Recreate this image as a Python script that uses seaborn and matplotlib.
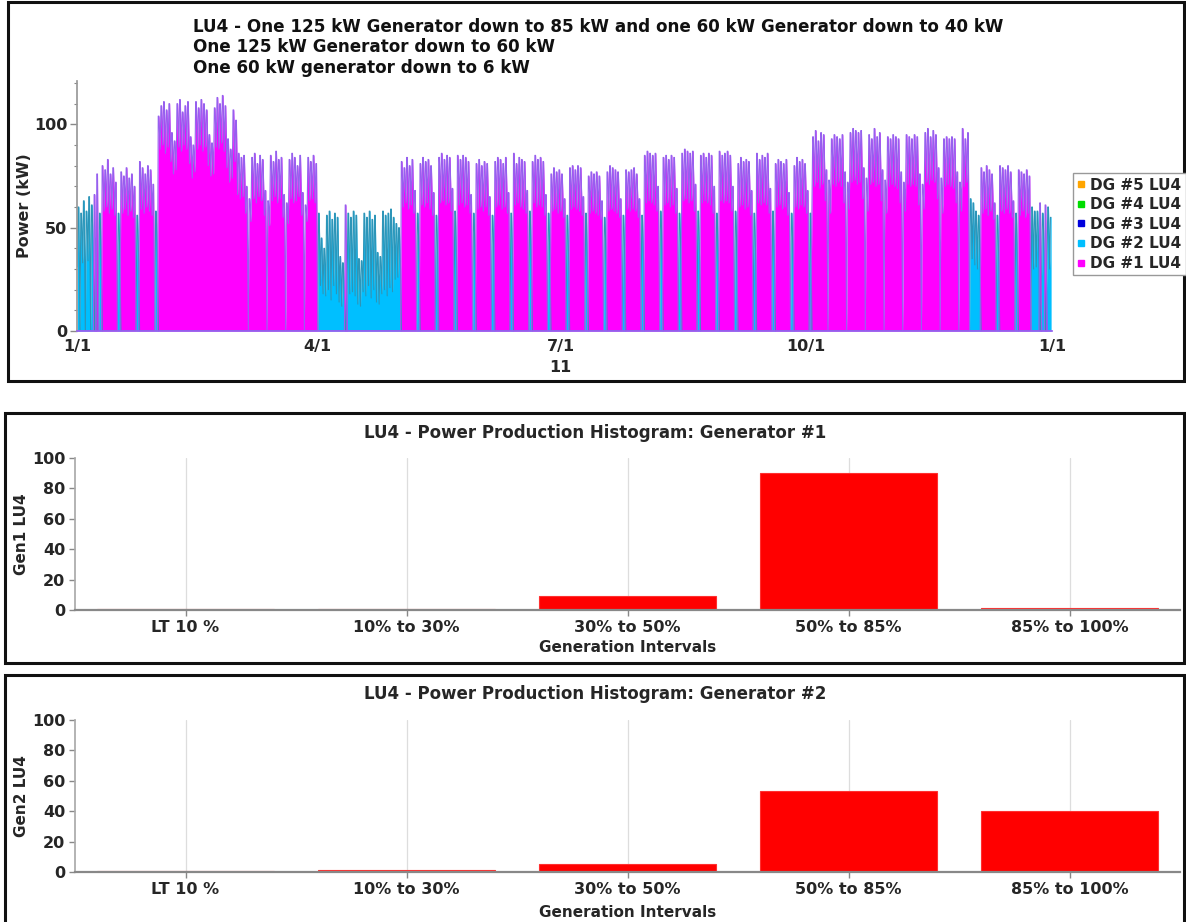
import numpy as np
import pandas as pd
import matplotlib
matplotlib.use("Agg")
import matplotlib.pyplot as plt
import matplotlib.dates as mdates
from matplotlib.lines import Line2D
from matplotlib.patches import Rectangle
import seaborn as sns

######### Data #########
# Daily peak load (kW) for 2011, one row per week Mon..Sun (first row = Sat 1 Jan, Sun 2 Jan)
peak_kw = [
    [60, 57],
    [63, 58, 65, 61, 66, 76, 57],
    [80, 78, 83, 76, 79, 72, 57],
    [77, 75, 79, 74, 76, 70, 56],
    [82, 79, 76, 80, 78, 71, 58],
    [104, 109, 111, 107, 110, 96, 92],
    [110, 112, 106, 109, 111, 94, 90],
    [111, 108, 112, 110, 107, 95, 91],
    [108, 113, 110, 114, 109, 93, 88],
    [107, 102, 86, 84, 85, 70, 64],
    [84, 86, 81, 85, 83, 68, 63],
    [85, 82, 87, 83, 84, 66, 62],
    [83, 86, 84, 80, 85, 67, 61],
    [84, 82, 85, 81, 57, 45, 40],
    [56, 58, 54, 57, 55, 36, 33],
    [61, 57, 55, 58, 56, 35, 34],
    [57, 55, 58, 54, 56, 38, 36],
    [58, 56, 57, 59, 55, 52, 50],
    [82, 79, 84, 80, 83, 68, 57],
    [81, 84, 82, 83, 80, 67, 56],
    [84, 86, 83, 85, 84, 69, 58],
    [85, 83, 85, 84, 82, 66, 57],
    [81, 83, 80, 82, 81, 65, 56],
    [82, 84, 83, 81, 84, 67, 57],
    [86, 81, 84, 83, 82, 68, 58],
    [82, 85, 83, 84, 82, 66, 57],
    [76, 79, 77, 78, 76, 64, 56],
    [79, 80, 78, 80, 79, 65, 57],
    [75, 77, 76, 77, 75, 63, 55],
    [77, 80, 79, 78, 77, 64, 56],
    [78, 77, 78, 79, 76, 64, 56],
    [85, 87, 86, 85, 86, 70, 58],
    [84, 85, 83, 85, 84, 69, 57],
    [86, 88, 87, 86, 87, 71, 58],
    [85, 86, 84, 86, 85, 70, 57],
    [87, 85, 86, 87, 85, 70, 58],
    [81, 84, 82, 83, 82, 68, 57],
    [86, 83, 85, 84, 86, 69, 58],
    [81, 83, 82, 81, 83, 67, 57],
    [80, 84, 82, 83, 81, 68, 57],
    [94, 97, 92, 96, 95, 78, 73],
    [93, 95, 94, 93, 95, 77, 72],
    [96, 98, 97, 96, 97, 79, 74],
    [95, 93, 98, 94, 96, 78, 73],
    [94, 93, 95, 94, 93, 77, 72],
    [95, 94, 93, 95, 94, 76, 71],
    [96, 98, 94, 97, 95, 79, 74],
    [93, 94, 93, 94, 93, 77, 72],
    [98, 93, 96, 64, 62, 58, 56],
    [79, 77, 80, 78, 76, 62, 56],
    [80, 79, 78, 80, 77, 63, 57],
    [78, 77, 76, 78, 75, 60, 58],
    [58, 62, 57, 61, 60, 55],
]
# Night-time minimum load (kW), same layout
low_kw = [
    [31, 0],
    [33, 0, 34, 0, 35, 45, 0],
    [32, 58, 60, 57, 59, 56, 0],
    [31, 57, 59, 56, 58, 55, 0],
    [33, 59, 57, 60, 58, 56, 0],
    [35, 88, 90, 86, 89, 82, 76],
    [78, 89, 87, 90, 88, 81, 74],
    [77, 88, 90, 87, 89, 80, 75],
    [76, 89, 88, 91, 87, 79, 72],
    [74, 82, 66, 64, 65, 57, 0],
    [53, 64, 62, 65, 63, 56, 0],
    [51, 63, 65, 62, 64, 55, 0],
    [52, 64, 62, 63, 65, 56, 0],
    [53, 63, 64, 62, 0, 22, 18],
    [17, 20, 15, 22, 18, 14, 12],
    [16, 21, 18, 19, 17, 13, 12],
    [19, 17, 22, 16, 20, 14, 13],
    [18, 20, 17, 21, 19, 25, 26],
    [30, 60, 62, 59, 61, 57, 0],
    [32, 61, 60, 62, 59, 56, 0],
    [31, 62, 63, 61, 62, 58, 0],
    [33, 61, 62, 60, 61, 57, 0],
    [30, 59, 60, 58, 60, 56, 0],
    [32, 60, 61, 59, 60, 57, 0],
    [31, 61, 62, 60, 59, 57, 0],
    [33, 62, 60, 61, 60, 56, 0],
    [30, 58, 59, 57, 58, 55, 0],
    [31, 59, 60, 59, 58, 56, 0],
    [30, 57, 58, 57, 56, 54, 0],
    [32, 58, 59, 58, 57, 55, 0],
    [31, 59, 58, 59, 58, 55, 0],
    [33, 62, 63, 62, 61, 58, 0],
    [32, 61, 62, 60, 61, 57, 0],
    [34, 63, 64, 62, 63, 58, 0],
    [33, 62, 63, 62, 61, 57, 0],
    [32, 63, 62, 63, 62, 58, 0],
    [31, 60, 61, 59, 60, 56, 0],
    [33, 62, 61, 62, 61, 57, 0],
    [32, 60, 61, 59, 60, 56, 0],
    [31, 60, 59, 61, 60, 57, 0],
    [58, 70, 72, 69, 71, 63, 0],
    [57, 71, 70, 72, 70, 62, 0],
    [59, 72, 73, 71, 72, 64, 0],
    [58, 71, 72, 70, 71, 63, 0],
    [57, 70, 71, 70, 69, 62, 0],
    [58, 71, 70, 71, 70, 61, 0],
    [59, 72, 71, 73, 72, 64, 0],
    [57, 70, 71, 70, 69, 62, 0],
    [58, 70, 72, 0, 35, 32, 30],
    [31, 57, 59, 56, 58, 54, 0],
    [32, 58, 57, 59, 57, 55, 0],
    [31, 56, 58, 55, 57, 0, 30],
    [31, 33, 30, 34, 32, 30],
]
# which generator carries the daytime load / the night (1 = DG #1, 2 = DG #2, 0 = none)
day_gen = [
    "22", "2222112", "1111112", "1111112", "1111112",
    "1111111", "1111111", "1111111", "1111111", "1111111",
    "1111111", "1111111", "1111111", "1111222", "2222222",
    "1222222", "2222222", "2222222",
    "1111112", "1111112", "1111112", "1111112", "1111112", "1111112",
    "1111112", "1111112", "1111112", "1111112", "1111112", "1111112",
    "1111112", "1111112", "1111112", "1111112", "1111112", "1111112",
    "1111112", "1111112", "1111112", "1111112",
    "1111111", "1111111", "1111111", "1111111", "1111111", "1111111",
    "1111111", "1111111", "1112222", "1111112", "1111112", "1111122",
    "212122",
]
night_gen = [
    "20", "2020220", "2111110", "2111110", "2111110",
    "2111111", "1111111", "1111111", "1111111", "1111110",
    "1111110", "1111110", "1111110", "1111022", "2222222",
    "2222222", "2222222", "2222222",
    "2111110", "2111110", "2111110", "2111110", "2111110", "2111110",
    "2111110", "2111110", "2111110", "2111110", "2111110", "2111110",
    "2111110", "2111110", "2111110", "2111110", "2111110", "2111110",
    "2111110", "2111110", "2111110", "2111110",
    "1111110", "1111110", "1111110", "1111110", "1111110", "1111110",
    "1111110", "1111110", "1110222", "2111110", "2111110", "2111102",
    "222222",
]
# hours of the day the readings stand for: night minimum, start and end of the day peak
night_hour = 3
peak_from_hour = 10
peak_to_hour = 16

intervals = ["LT 10 %", "10% to 30%", "30% to 50%", "50% to 85%", "85% to 100%"]
gen1_pct = [0.4, 0.4, 9, 90, 1.5]
gen2_pct = [0.4, 1.2, 5.5, 53, 40]

legend_names = ["DG #5 LU4", "DG #4 LU4", "DG #3 LU4", "DG #2 LU4", "DG #1 LU4"]
legend_colors = ["#ffa500", "#00dd00", "#0000dd", "#00bfff", "#ff00ff"]

######### Build the series #########
peaks = np.concatenate([np.array(w, float) for w in peak_kw])
lows = np.concatenate([np.array(w, float) for w in low_kw])
dgen = np.array(list("".join(day_gen)))
ngen = np.array(list("".join(night_gen)))
days = np.arange(len(peaks))

t = np.column_stack([days + night_hour / 24, days + peak_from_hour / 24,
                     days + peak_to_hour / 24]).ravel()
vals = np.column_stack([lows, peaks, peaks]).ravel()
gens = np.column_stack([ngen, dgen, dgen]).ravel()

start = pd.Timestamp("2011-01-01")
df = pd.DataFrame({
    "time": start + pd.to_timedelta(t, unit="D"),
    "DG #1 LU4": np.where(gens == "1", vals, 0.0),
    "DG #2 LU4": np.where(gens == "2", vals, 0.0),
})
long = df.melt(id_vars="time", var_name="series", value_name="kW")

######### Figure #########
sns.set_theme(style="white")
plt.rcParams["font.family"] = ["DejaVu Sans"]
plt.rcParams["font.weight"] = "bold"

W, H = 1186, 922
fig = plt.figure(figsize=(W / 100, H / 100), dpi=100)

def fx(px):
    return px / W

def fy(px):
    return 1 - px / H

# panel frames
for x0, y0, x1, y1 in [(8, 2, 1184, 381), (5, 413, 1184, 663), (5, 675, 1184, 930)]:
    fig.add_artist(Rectangle((fx(x0), fy(y1)), fx(x1 - x0), (y1 - y0) / H,
                             transform=fig.transFigure, fill=False, lw=2.2, ec="#111111"))

# ---- top: power time series ----
ax = fig.add_axes([fx(77), fy(331), fx(1052 - 77), (331 - 81) / H])
ax.fill_between(df["time"], df["DG #2 LU4"], color="#00bfff", lw=0)
ax.fill_between(df["time"], df["DG #1 LU4"], color="#ff00ff", lw=0)
sns.lineplot(data=long, x="time", y="kW", hue="series",
             hue_order=["DG #2 LU4", "DG #1 LU4"],
             palette={"DG #2 LU4": "#2c95b8", "DG #1 LU4": "#9660ee"},
             estimator=None, lw=0.8, legend=False, ax=ax)

ax.set_xlim(pd.Timestamp("2011-01-01"), pd.Timestamp("2012-01-01"))
ax.set_ylim(0, 121)
ax.set_xlabel("")
ax.set_ylabel("")
major = [pd.Timestamp(s) for s in ["2011-01-01", "2011-04-01", "2011-07-01", "2011-10-01", "2012-01-01"]]
ax.set_xticks(major)
ax.set_xticklabels(["1/1", "4/1", "7/1", "10/1", "1/1"])
ax.xaxis.remove_overlapping_locs = False
ax.set_xticks([major[0], major[-1]], minor=True)
ax.set_yticks([0, 50, 100])
ax.set_yticks(np.arange(0, 121, 10), minor=True)
ax.tick_params(axis="x", which="major", length=4, width=1, color="#888888", labelsize=11.5, pad=2)
ax.tick_params(axis="x", which="minor", length=32, width=1, color="#888888")
ax.tick_params(axis="y", which="major", length=5, width=1, color="#888888", labelsize=11.5, pad=2, left=True)
ax.tick_params(axis="y", which="minor", length=2.5, width=0.8, color="#888888", left=True)
for s in ["top", "right"]:
    ax.spines[s].set_visible(False)
ax.spines["left"].set_color("#999999")
ax.spines["bottom"].set_color("#9660ee")
ax.text(mdates.date2num(pd.Timestamp("2011-07-01")), -36 / 250, "11",
        transform=ax.get_xaxis_transform(), ha="center", va="center", fontsize=11.5)

titles = ["LU4 - One 125 kW Generator down to 85 kW and one 60 kW Generator down to 40 kW",
          "One 125 kW Generator down to 60 kW",
          "One 60 kW generator down to 6 kW"]
for ty, txt in zip([27, 47, 68], titles):
    fig.text(fx(193), fy(ty), txt, ha="left", va="center", fontsize=12.1, color="#111111")
fig.text(fx(25), fy(206), "Power (kW)", rotation=90, ha="center", va="center", fontsize=11.5)

handles = [Line2D([], [], marker="s", ms=4, ls="", color=c) for c in legend_colors]
fig.legend(handles, legend_names, loc="upper left", bbox_to_anchor=(fx(1073), fy(173)),
           frameon=True, fancybox=False, edgecolor="#999999", framealpha=1,
           prop={"weight": "bold", "size": 11}, handlelength=0.5, handletextpad=0.3,
           borderpad=0.3, labelspacing=0.3, borderaxespad=0)

# ---- histograms ----
def histogram(values, top_px, bottom_px, title, ylabel, title_px, xlabel_px):
    hx = fig.add_axes([fx(75), fy(bottom_px), fx(1180 - 75), (bottom_px - top_px) / H])
    sns.barplot(x=intervals, y=values, color="#ff0000", saturation=1, width=0.8,
                edgecolor="#ff3030", linewidth=0.8, ax=hx)
    hx.set_xlim(-0.5, len(intervals) - 0.5)
    hx.set_ylim(0, 100)
    hx.set_yticks(np.arange(0, 101, 20))
    hx.xaxis.grid(True, color="#dddddd", lw=0.9)
    hx.set_axisbelow(True)
    hx.set_xlabel("")
    hx.set_ylabel("")
    hx.tick_params(axis="both", length=4, width=1, color="#888888", labelsize=11.5, pad=3,
                   left=True, bottom=True)
    for s in ["top", "right"]:
        hx.spines[s].set_visible(False)
    hx.spines["left"].set_color("#aaaaaa")
    hx.spines["bottom"].set_color("#888888")
    hx.spines["bottom"].set_linewidth(1.6)
    fig.text(fx(595), fy(title_px), title, ha="center", va="center", fontsize=12)
    fig.text(fx(627.5), fy(xlabel_px), "Generation Intervals", ha="center", va="center", fontsize=11)
    fig.text(fx(22), fy((top_px + bottom_px) / 2), ylabel, rotation=90, ha="center", va="center",
             fontsize=11)
    return hx

histogram(gen1_pct, 458, 610, "LU4 - Power Production Histogram: Generator #1", "Gen1 LU4", 433, 648)
histogram(gen2_pct, 720, 872, "LU4 - Power Production Histogram: Generator #2", "Gen2 LU4", 694, 912)

fig.savefig("out.png", dpi=100)
